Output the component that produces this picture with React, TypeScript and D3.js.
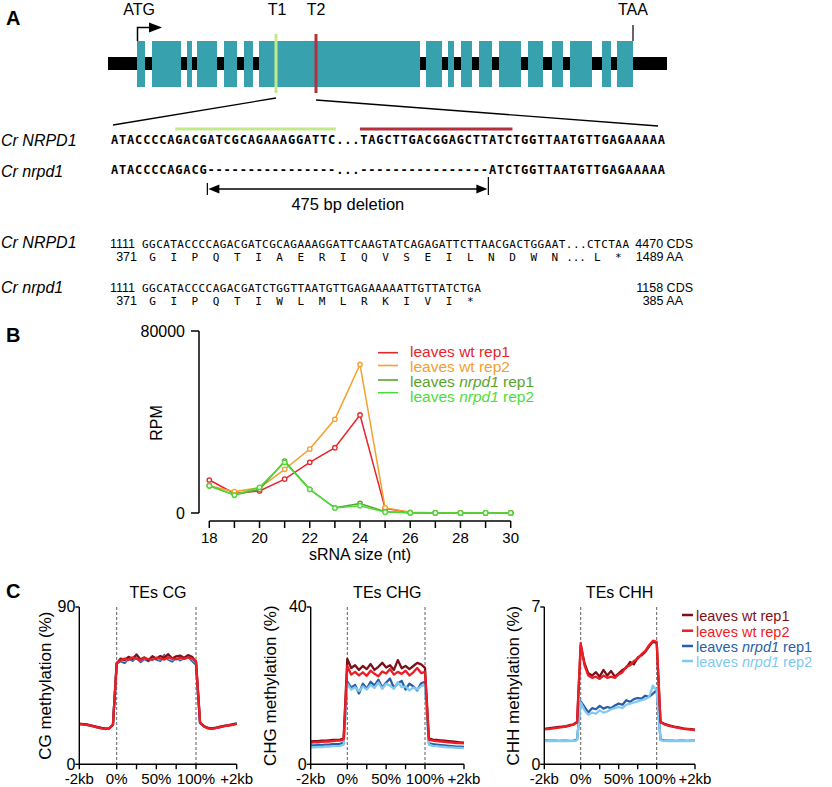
import React from 'react';
import * as d3 from 'd3';

const W = 832;
const H = 787;
const SANS = "'Liberation Sans', Arial, Helvetica, sans-serif";
const MONO = "'DejaVu Sans Mono', 'Liberation Mono', monospace";

// ---------- Panel A data ----------
const geneLength = 559;
const exons: [number, number][] = [
  [29, 37], [44, 73], [79, 84], [89, 109], [116, 129], [136, 145], [151, 312],
  [318, 334], [340, 346], [353, 364], [371, 384], [391, 413], [420, 435],
  [444, 455], [462, 484], [494, 503], [509, 525],
];
const atgPos = 29;
const taaPos = 525;
const t1Pos = 168;
const t2Pos = 208;

const seqWt = 'ATACCCCAGACGATCGCAGAAAGGATTC...TAGCTTGACGGAGCTTATCTGGTTAATGTTGAGAAAAA';
const seqMut = 'ATACCCCAGACG----------------...----------------ATCTGGTTAATGTTGAGAAAAA';
const guide1: [number, number] = [8, 28];
const guide2: [number, number] = [31, 50];
const deletion: [number, number] = [12, 47];

const cdsWt = 'GGCATACCCCAGACGATCGCAGAAAGGATTCAAGTATCAGAGATTCTTAACGACTGGAAT...CTCTAA';
const aaWt = ['G', 'I', 'P', 'Q', 'T', 'I', 'A', 'E', 'R', 'I', 'Q', 'V', 'S', 'E', 'I', 'L', 'N', 'D', 'W', 'N', '...', 'L', '*'];
const cdsMut = 'GGCATACCCCAGACGATCTGGTTAATGTTGAGAAAAATTGTTATCTGA';
const aaMut = ['G', 'I', 'P', 'Q', 'T', 'I', 'W', 'L', 'M', 'L', 'R', 'K', 'I', 'V', 'I', '*'];

// ---------- Panel B data ----------
const sizes = [18, 19, 20, 21, 22, 23, 24, 25, 26, 27, 28, 29, 30];
const sizeTicks = [18, 20, 22, 24, 26, 28, 30];
const wtRep1 = [14500, 8600, 9700, 14900, 22300, 28700, 43100, 2000, 200, 100, 50, 50, 50];
const wtRep2 = [12000, 9400, 11100, 19200, 28100, 41200, 65300, 2300, 300, 100, 50, 50, 50];
const nrpdRep1 = [12000, 7900, 10400, 22800, 10400, 2300, 4200, 600, 100, 50, 50, 50, 50];
const nrpdRep2 = [12000, 7900, 11300, 22300, 10400, 2200, 3200, 400, 100, 50, 50, 50, 50];

// ---------- Panel C data ----------
const flankUp = [-1, -0.9, -0.8, -0.7, -0.6, -0.5, -0.4, -0.3, -0.2, -0.1];
const bodyBins = [0, 0.05, 0.1, 0.15, 0.2, 0.25, 0.3, 0.35, 0.4, 0.45, 0.5, 0.55, 0.6, 0.65, 0.7, 0.75, 0.8, 0.85, 0.9, 0.95, 1];
const flankDown = [1.1, 1.2, 1.3, 1.4, 1.5, 1.6, 1.7, 1.8, 1.9, 2.0];
const binPos = [...flankUp, ...bodyBins, ...flankDown];

const cgWt1 = [23.2, 23.0, 22.8, 22.3, 21.8, 21.3, 20.8, 20.4, 20.6, 22.5,
  57.5, 60.5, 59.8, 61.5, 60.2, 62.8, 60.0, 61.2, 59.5, 61.8, 60.4, 62.0, 61.0, 63.0, 60.5, 61.8, 62.2, 60.8, 62.5, 61.5, 58.5,
  23.8, 21.8, 20.8, 20.6, 21.0, 21.5, 22.0, 22.3, 22.8, 23.2];
const cgWt2 = [23.0, 22.8, 22.5, 22.2, 21.6, 21.0, 20.5, 20.2, 20.5, 22.8,
  58.0, 59.5, 60.5, 59.8, 61.2, 60.5, 59.6, 60.8, 60.2, 59.8, 61.0, 60.4, 59.9, 61.2, 60.6, 60.0, 61.0, 60.3, 61.2, 60.5, 59.0,
  24.0, 21.5, 20.5, 20.2, 20.8, 21.2, 21.8, 22.2, 22.6, 23.2];
const cgMut1 = [23.0, 22.8, 22.6, 22.0, 21.5, 21.0, 20.6, 20.3, 20.5, 22.6,
  57.8, 59.0, 58.0, 60.5, 59.2, 61.0, 58.5, 60.2, 59.0, 61.5, 60.0, 59.2, 62.5, 60.0, 58.8, 61.2, 59.5, 60.8, 61.5, 59.2, 57.0,
  23.5, 21.6, 20.6, 20.4, 20.9, 21.4, 22.0, 22.4, 22.8, 23.4];
const cgMut2 = [23.1, 22.9, 22.6, 22.1, 21.6, 21.1, 20.6, 20.3, 20.6, 22.7,
  58.2, 59.8, 59.2, 60.8, 60.0, 61.5, 59.5, 60.6, 59.8, 60.9, 60.5, 60.1, 61.6, 60.7, 59.9, 60.8, 60.4, 61.0, 61.3, 60.2, 58.2,
  23.6, 21.7, 20.7, 20.5, 21.0, 21.5, 22.0, 22.4, 22.9, 23.5];

const chgWt1 = [5.8, 5.9, 5.9, 6.0, 6.0, 6.1, 6.2, 6.2, 6.3, 6.6,
  26.8, 24.5, 25.2, 24.0, 25.0, 24.2, 25.5, 24.0, 24.8, 25.8, 24.6, 25.2, 24.0, 26.5, 24.4, 25.0, 24.2, 25.0, 25.8, 25.4, 24.5,
  6.6, 6.3, 6.2, 6.1, 6.0, 5.9, 5.8, 5.7, 5.6, 5.5];
const chgWt2 = [5.5, 5.6, 5.6, 5.7, 5.8, 5.8, 5.9, 6.0, 6.0, 6.3,
  25.0, 22.8, 23.5, 22.6, 23.4, 22.5, 23.8, 23.0, 22.4, 23.6, 23.1, 24.2, 22.8, 23.5, 23.0, 23.8, 22.6, 23.4, 24.5, 23.2, 23.5,
  6.3, 6.0, 5.9, 5.8, 5.7, 5.6, 5.5, 5.4, 5.4, 5.3];
const chgMut1 = [4.8, 4.8, 4.9, 4.9, 5.0, 5.0, 5.1, 5.1, 5.2, 5.5,
  21.0, 19.5, 20.2, 18.0, 20.5, 19.2, 21.0, 20.0, 21.5, 19.5, 20.8, 21.8, 19.4, 20.6, 21.2, 19.0, 20.5, 19.8, 18.8, 20.6, 21.0,
  5.4, 5.1, 5.0, 4.9, 4.8, 4.7, 4.6, 4.5, 4.5, 4.4];
const chgMut2 = [4.3, 4.3, 4.4, 4.4, 4.5, 4.5, 4.6, 4.6, 4.7, 5.0,
  20.5, 19.0, 19.6, 18.6, 19.8, 19.0, 20.2, 19.4, 20.8, 19.2, 20.5, 20.0, 19.2, 20.9, 19.6, 19.8, 18.8, 19.5, 19.0, 19.9, 20.2,
  5.0, 4.7, 4.6, 4.5, 4.4, 4.3, 4.3, 4.2, 4.2, 4.1];

const chhWt1 = [1.58, 1.60, 1.62, 1.64, 1.66, 1.68, 1.70, 1.74, 1.78, 1.88,
  5.30, 4.50, 4.05, 3.95, 4.10, 3.90, 4.20, 3.95, 4.15, 3.90, 4.05, 4.20, 4.30, 4.55, 4.45, 4.75, 4.85, 5.00, 5.25, 5.45, 5.40,
  1.88, 1.80, 1.74, 1.70, 1.66, 1.63, 1.60, 1.58, 1.56, 1.54];
const chhWt2 = [1.55, 1.57, 1.59, 1.61, 1.63, 1.65, 1.68, 1.72, 1.76, 1.86,
  5.40, 4.40, 3.95, 3.85, 3.90, 3.80, 3.95, 3.85, 3.90, 3.85, 4.00, 4.10, 4.35, 4.40, 4.60, 4.70, 4.90, 5.05, 5.30, 5.50, 5.45,
  1.86, 1.78, 1.72, 1.68, 1.64, 1.61, 1.58, 1.56, 1.54, 1.52];
const chhMut1 = [1.06, 1.05, 1.05, 1.05, 1.04, 1.05, 1.05, 1.04, 1.05, 1.10,
  2.80, 2.55, 2.30, 2.50, 2.45, 2.60, 2.48, 2.55, 2.50, 2.62, 2.70, 2.65, 2.85, 2.78, 2.90, 2.95, 2.92, 3.05, 3.00, 3.15, 3.30,
  1.10, 1.06, 1.05, 1.05, 1.04, 1.05, 1.05, 1.04, 1.05, 1.05];
const chhMut2 = [1.04, 1.03, 1.04, 1.03, 1.03, 1.04, 1.03, 1.03, 1.04, 1.08,
  2.75, 2.40, 2.20, 2.30, 2.25, 2.40, 2.30, 2.35, 2.45, 2.50, 2.55, 2.50, 2.65, 2.70, 2.75, 2.80, 2.85, 2.90, 3.00, 3.50, 3.30,
  1.08, 1.04, 1.03, 1.04, 1.03, 1.03, 1.04, 1.03, 1.03, 1.04];

const cTickPos = [-1, 0, 0.25, 0.5, 0.75, 1, 2];
const cTickLabelPos = [-1, 0, 0.5, 1, 2];
const cTickLabels = ['-2kb', '0%', '50%', '100%', '+2kb'];

// ---------- styles ----------
const TEAL = '#38a1ae';
const T1COL = '#c4e98c';
const T2COL = '#b3303f';
const bColors = ['#e5262b', '#f3a02f', '#5ca32b', '#4cdc3a'];
const cColors = ['#7d1018', '#ee1c24', '#2a5ea8', '#80c9f1'];

function MethPanel(props: {
  x0: number; x1: number; x2: number; x3: number; max: number;
  title: string; ylabel: string; ylabelX: number; series: number[][];
}) {
  const { x0, x1, x2, x3, max, title, ylabel, ylabelX, series } = props;
  const yBottom = 764.3;
  const yTop = 607;
  const x = d3.scaleLinear().domain([-1, 0, 1, 2]).range([x0, x1, x2, x3]);
  const y = d3.scaleLinear().domain([0, max]).range([yBottom, yTop]);
  const line = d3.line<number>().x((_, i) => x(binPos[i])).y((d) => y(d));
  const order = [2, 3, 0, 1];
  return (
    <g>
      <text x={(x0 + x3) / 2} y={598} fontSize={16} textAnchor="middle">{title}</text>
      {[0, 1].map((p) => (
        <line key={p} x1={x(p)} x2={x(p)} y1={yTop} y2={yBottom} stroke="#333" strokeWidth={0.8} strokeDasharray="3,2" />
      ))}
      {order.map((k) => (
        <path key={k} d={line(series[k]) || ''} fill="none" stroke={cColors[k]} strokeWidth={2.3} strokeLinejoin="round" />
      ))}
      <line x1={x0} x2={x0} y1={yTop} y2={yBottom} stroke="#000" strokeWidth={1.4} />
      <line x1={x0} x2={x3} y1={yBottom} y2={yBottom} stroke="#000" strokeWidth={1.4} />
      {[0, max].map((v) => (
        <g key={v}>
          <line x1={x0 - 4} x2={x0} y1={y(v)} y2={y(v)} stroke="#000" strokeWidth={1.4} />
          <text x={x0 - 4} y={y(v)} dy="0.33em" fontSize={16} textAnchor="end">{v}</text>
        </g>
      ))}
      {cTickPos.map((p) => (
        <line key={p} x1={x(p)} x2={x(p)} y1={yBottom} y2={yBottom + 5} stroke="#000" strokeWidth={1.4} />
      ))}
      {cTickLabelPos.map((p, i) => (
        <text key={p} x={x(p)} y={783.5} fontSize={15} textAnchor="middle">{cTickLabels[i]}</text>
      ))}
      <text transform={`translate(${ylabelX},${(yTop + yBottom) / 2}) rotate(-90)`} fontSize={17} textAnchor="middle">{ylabel}</text>
    </g>
  );
}

export default function App() {
  // Panel A scales
  const gx = d3.scaleLinear().domain([0, geneLength]).range([108, 667]);
  const sx = d3.scaleLinear().domain([0, seqWt.length]).range([111, 665]);
  const lx = d3.scaleLinear().domain([0, cdsWt.length]).range([142, 629]);

  // Panel B scales
  const bx = d3.scaleLinear().domain([18, 30]).range([209.3, 510.7]);
  const by = d3.scaleLinear().domain([0, 80000]).range([513, 331]);
  const bLine = d3.line<number>().x((_, i) => bx(sizes[i])).y((d) => by(d));
  const bSeries = [wtRep1, wtRep2, nrpdRep1, nrpdRep2];
  const bLegend: [string, string, string][] = [
    ['leaves ', 'wt', ' rep1'],
    ['leaves ', 'wt', ' rep2'],
    ['leaves ', 'nrpd1', ' rep1'],
    ['leaves ', 'nrpd1', ' rep2'],
  ];
  const bLegendLineY = [352.7, 365.5, 380, 392.7];
  const bLegendTextY = [356.5, 371.5, 387, 402];
  const cLegendLineY = [615, 630.7, 646, 661];
  const cLegendTextY = [621, 636.5, 652, 667];

  const aaRow = (aas: string[], yy: number) =>
    aas.map((a, k) => (
      <text key={k} x={lx(3 * k + 1.5)} y={yy} fontFamily={MONO} fontSize={11} textAnchor="middle">{a}</text>
    ));

  return (
    <svg width={W} height={H} style={{ position: 'absolute', left: 0, top: 0, background: '#fff' }} fontFamily={SANS}>
      {/* ===== Panel A ===== */}
      <text x={6} y={25} fontSize={20} fontWeight="bold">A</text>
      <text x={gx(atgPos) + 2} y={15} fontSize={16} textAnchor="middle">ATG</text>
      <path d={`M${gx(atgPos) + 0.5},41 V27.5 H${gx(atgPos) + 13}`} fill="none" stroke="#000" strokeWidth={1.5} />
      <path d={`M${gx(atgPos) + 12},22.5 L${gx(atgPos) + 25},27.5 L${gx(atgPos) + 12},32.5 Z`} fill="#000" />
      <text x={gx(t1Pos) + 1} y={15} fontSize={16} textAnchor="middle">T1</text>
      <text x={gx(t2Pos)} y={15} fontSize={16} textAnchor="middle">T2</text>
      <text x={gx(taaPos)} y={15} fontSize={16} textAnchor="middle">TAA</text>
      <line x1={gx(taaPos)} x2={gx(taaPos)} y1={25} y2={41} stroke="#000" strokeWidth={1.2} />
      <rect x={gx(0)} y={57} width={gx(geneLength) - gx(0)} height={13} fill="#000" />
      {exons.map(([s, e], i) => (
        <rect key={i} x={gx(s)} y={41} width={gx(e) - gx(s)} height={46} fill={TEAL} />
      ))}
      <line x1={gx(t1Pos)} x2={gx(t1Pos)} y1={34} y2={93} stroke={T1COL} strokeWidth={3} />
      <line x1={gx(t2Pos)} x2={gx(t2Pos)} y1={34} y2={93} stroke={T2COL} strokeWidth={3} />
      <line x1={gx(t1Pos)} y1={98} x2={113} y2={125} stroke="#000" strokeWidth={1.3} />
      <line x1={gx(t2Pos)} y1={100} x2={658} y2={126} stroke="#000" strokeWidth={1.3} />

      <text x={1} y={146} fontSize={16} fontStyle="italic">Cr NRPD1</text>
      <text x={1} y={177} fontSize={16} fontStyle="italic">Cr nrpd1</text>
      <line x1={sx(guide1[0])} x2={sx(guide1[1])} y1={129} y2={129} stroke={T1COL} strokeWidth={3} />
      <line x1={sx(guide2[0])} x2={sx(guide2[1])} y1={129} y2={129} stroke={T2COL} strokeWidth={3} />
      <text x={sx(0)} y={144} fontFamily={MONO} fontSize={12} fontWeight="bold" textLength={sx(seqWt.length) - sx(0)} lengthAdjust="spacing">{seqWt}</text>
      <text x={sx(0)} y={174} fontFamily={MONO} fontSize={12} fontWeight="bold" textLength={sx(seqMut.length) - sx(0)} lengthAdjust="spacing">{seqMut}</text>
      <line x1={sx(deletion[0])} x2={sx(deletion[0])} y1={183} y2={195} stroke="#000" strokeWidth={1.2} />
      <line x1={sx(deletion[1])} x2={sx(deletion[1])} y1={177} y2={195} stroke="#000" strokeWidth={1.2} />
      <line x1={sx(deletion[0]) + 8} x2={sx(deletion[1]) - 8} y1={189} y2={189} stroke="#000" strokeWidth={1.4} />
      <path d={`M${sx(deletion[0]) + 1},189 L${sx(deletion[0]) + 12},184.5 L${sx(deletion[0]) + 12},193.5 Z`} fill="#000" />
      <path d={`M${sx(deletion[1]) - 1},189 L${sx(deletion[1]) - 12},184.5 L${sx(deletion[1]) - 12},193.5 Z`} fill="#000" />
      <text x={(sx(deletion[0]) + sx(deletion[1])) / 2} y={210} fontSize={16.5} textAnchor="middle">475 bp deletion</text>

      <text x={1} y={248} fontSize={16} fontStyle="italic">Cr NRPD1</text>
      <text x={1} y={293} fontSize={16} fontStyle="italic">Cr nrpd1</text>
      <text x={110} y={248} fontSize={12.5}>1111</text>
      <text x={137} y={261} fontSize={12.5} textAnchor="end">371</text>
      <text x={110} y={292} fontSize={12.5}>1111</text>
      <text x={137} y={305} fontSize={12.5} textAnchor="end">371</text>
      <text x={lx(0)} y={248} fontFamily={MONO} fontSize={11} textLength={lx(cdsWt.length) - lx(0)} lengthAdjust="spacing">{cdsWt}</text>
      {aaRow(aaWt, 261)}
      <text x={lx(0)} y={292} fontFamily={MONO} fontSize={11} textLength={lx(cdsMut.length) - lx(0)} lengthAdjust="spacing">{cdsMut}</text>
      {aaRow(aaMut, 305)}
      <text x={693} y={248} fontSize={12.5} textAnchor="end">4470 CDS</text>
      <text x={683} y={261} fontSize={12.5} textAnchor="end">1489 AA</text>
      <text x={693} y={292} fontSize={12.5} textAnchor="end">1158 CDS</text>
      <text x={683} y={305} fontSize={12.5} textAnchor="end">385 AA</text>

      {/* ===== Panel B ===== */}
      <text x={6} y={342} fontSize={20} fontWeight="bold">B</text>
      <line x1={199} x2={199} y1={by(80000)} y2={by(0)} stroke="#000" strokeWidth={1.5} />
      {[0, 80000].map((v) => (
        <g key={v}>
          <line x1={191} x2={199} y1={by(v)} y2={by(v)} stroke="#000" strokeWidth={1.5} />
          <text x={185} y={by(v)} dy="0.36em" fontSize={16} textAnchor="end">{v}</text>
        </g>
      ))}
      <text transform={`translate(162,${(by(0) + by(80000)) / 2 + 1}) rotate(-90)`} fontSize={16} textAnchor="middle">RPM</text>
      <line x1={bx(18)} x2={bx(30)} y1={521} y2={521} stroke="#000" strokeWidth={1.5} />
      {sizes.map((s) => (
        <line key={s} x1={bx(s)} x2={bx(s)} y1={521} y2={528} stroke="#000" strokeWidth={1.5} />
      ))}
      {sizeTicks.map((s) => (
        <text key={s} x={bx(s)} y={543} fontSize={15} textAnchor="middle">{s}</text>
      ))}
      <text x={(bx(18) + bx(30)) / 2} y={560} fontSize={16} textAnchor="middle">sRNA size (nt)</text>
      {bSeries.map((ser, k) => (
        <g key={k}>
          <path d={bLine(ser) || ''} fill="none" stroke={bColors[k]} strokeWidth={1.5} />
          {ser.map((v, i) => (
            <circle key={i} cx={bx(sizes[i])} cy={by(v)} r={2.2} fill="#fff" stroke={bColors[k]} strokeWidth={1.3} />
          ))}
        </g>
      ))}
      {bLegend.map((lg, k) => (
        <g key={k}>
          <line x1={378} x2={398} y1={bLegendLineY[k]} y2={bLegendLineY[k]} stroke={bColors[k]} strokeWidth={1.6} />
          <text x={410} y={bLegendTextY[k]} fontSize={15.5} fill={bColors[k]}>
            {lg[0]}
            <tspan fontStyle={lg[1] === 'nrpd1' ? 'italic' : 'normal'}>{lg[1]}</tspan>
            {lg[2]}
          </text>
        </g>
      ))}

      {/* ===== Panel C ===== */}
      <text x={6} y={598} fontSize={20} fontWeight="bold">C</text>
      <MethPanel x0={79.3} x1={116.7} x2={196} x3={236.7} max={90} title="TEs CG" ylabel="CG methylation (%)" ylabelX={50.5}
        series={[cgWt1, cgWt2, cgMut1, cgMut2]} />
      <MethPanel x0={310.7} x1={347.3} x2={425} x3={464} max={40} title="TEs CHG" ylabel="CHG methylation (%)" ylabelX={276}
        series={[chgWt1, chgWt2, chgMut1, chgMut2]} />
      <MethPanel x0={544.3} x1={580.7} x2={656.7} x3={695} max={7} title="TEs CHH" ylabel="CHH methylation (%)" ylabelX={519}
        series={[chhWt1, chhWt2, chhMut1, chhMut2]} />
      {bLegend.map((lg, k) => (
        <g key={k}>
          <line x1={682} x2={693} y1={cLegendLineY[k]} y2={cLegendLineY[k]} stroke={cColors[k]} strokeWidth={2.5} />
          <text x={696} y={cLegendTextY[k]} fontSize={14.5} fill={cColors[k]}>
            {lg[0]}
            <tspan fontStyle={lg[1] === 'nrpd1' ? 'italic' : 'normal'}>{lg[1]}</tspan>
            {lg[2]}
          </text>
        </g>
      ))}
    </svg>
  );
}
